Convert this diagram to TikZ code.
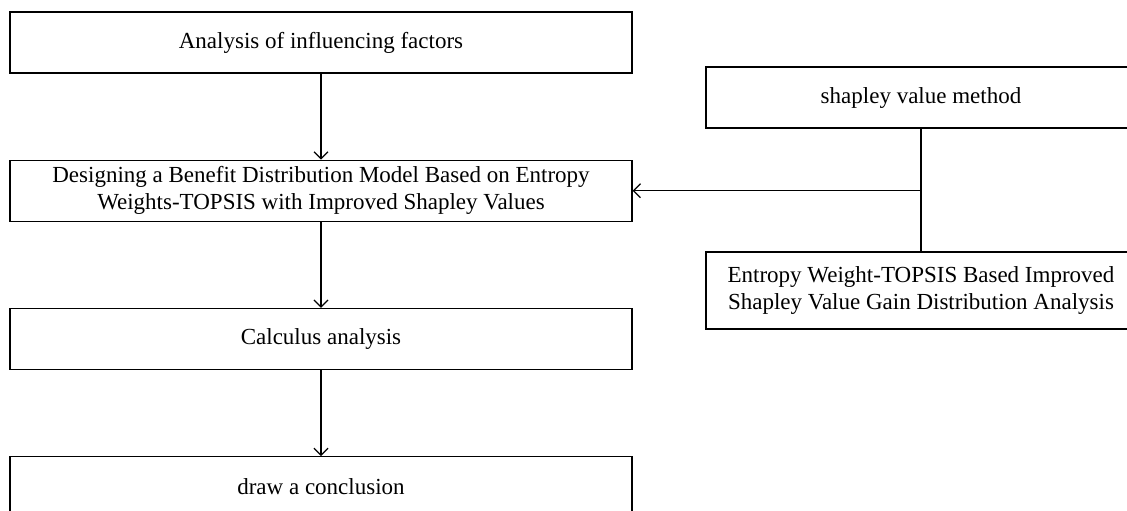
\documentclass[tikz,border=0pt]{standalone}
\usepackage{fontspec}
\setmainfont{Liberation Serif}
\usepackage{tikz}
\usetikzlibrary{arrows.meta, positioning}
\tikzset{
	stepbox/.style ={rectangle, draw=black, semithick, minimum width=311pt, minimum height=30.5pt, align=center, inner sep=2pt},
	sidebox/.style ={rectangle, draw=black, semithick, minimum width=215pt, align=center, inner sep=2pt},
	flowarrow/.style={-{Straight Barb[length=3.5pt, width=7pt]}, semithick},
}
\begin{document}
\begin{tikzpicture}[x=0.5pt, y=-0.5pt, font=\fontsize{11.5}{13.5}\selectfont, node distance=43pt]
	\clip (0,0) rectangle (1127,510);
	% main chain
	\node[stepbox] (factors) at (321,42.5) {Analysis of influencing factors};
	\node[stepbox, below=of factors] (model) {Designing a Benefit Distribution Model Based on Entropy\\Weights-TOPSIS with Improved Shapley Values};
	\node[stepbox, below=of model] (calc) {Calculus analysis};
	\node[stepbox, below=of calc] (concl) {draw a conclusion};
	% side methods
	\node[sidebox, minimum height=30.5pt] (shapley) at (921,97.5) {shapley value method};
	\node[sidebox, minimum height=38.5pt] (entropy) at (921,290.5) {Entropy Weight-TOPSIS Based Improved\\Shapley Value Gain Distribution Analysis};
	\coordinate (join) at (shapley.south |- model.east);
	\draw[semithick] (shapley) -- (entropy);
	\draw[flowarrow] (join) -- (model);
	\draw[flowarrow] (factors) -- (model);
	\draw[flowarrow] (model) -- (calc);
	\draw[flowarrow] (calc) -- (concl);
\end{tikzpicture}
\end{document}
